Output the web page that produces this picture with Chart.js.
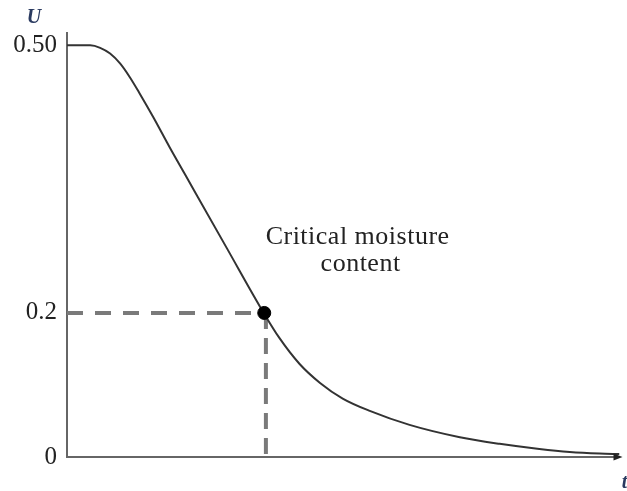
<!DOCTYPE html>
<html>
<head>
<meta charset="utf-8">
<script src="https://cdn.jsdelivr.net/npm/chart.js@4"></script>
<style>
html,body{margin:0;padding:0;background:#fff;}
#wrap{width:627px;height:491px;}
</style>
</head>
<body>
<div id="wrap"><canvas id="c" width="627" height="491"></canvas></div>
<script>
// ---- data ----
const tValues = [0, 0.42, 0.6, 0.78, 0.96, 1.14, 1.32, 1.56, 1.86, 2.13, 2.89, 3.56, 3.85, 4.21, 4.58, 4.99, 5.48, 6.2, 7.11, 7.83, 8.55, 9.1, 9.64, 10];
const uValues = [0.5, 0.5, 0.497, 0.49, 0.478, 0.461, 0.441, 0.413, 0.376, 0.344, 0.254, 0.175, 0.144, 0.113, 0.09, 0.071, 0.056, 0.039, 0.024, 0.016, 0.0097, 0.0061, 0.0042, 0.0036];
const criticalT = 3.57;
const criticalU = 0.175;
const yTickValues = [0, 0.175, 0.5];
const yTickLabels = ['0', '0.2', '0.50'];
const annotationLines = ['Critical moisture', 'content'];
const annotationT = 5.26;
const annotationU = 0.259;
const xAxisTitle = 't';
const yAxisTitle = 'U';

const curve = tValues.map((t, i) => ({x: t, y: uValues[i]}));

const overlay = {
  id: 'overlay',
  afterDraw(chart) {
    const {ctx, chartArea: a, scales: {x, y}} = chart;
    ctx.save();
    // arrow head on x axis
    ctx.fillStyle = '#222';
    ctx.beginPath();
    ctx.moveTo(a.right + 3, a.bottom);
    ctx.lineTo(a.right - 6, a.bottom - 3.5);
    ctx.lineTo(a.right - 6, a.bottom + 3.5);
    ctx.closePath();
    ctx.fill();
    // annotation
    ctx.fillStyle = '#222';
    ctx.font = '26px "Liberation Serif", serif';
    try { ctx.letterSpacing = '0.5px'; } catch (e) {}
    ctx.textAlign = 'center';
    ctx.textBaseline = 'alphabetic';
    const ax = x.getPixelForValue(annotationT);
    const ay = y.getPixelForValue(annotationU);
    ctx.fillText(annotationLines[0], ax, ay);
    ctx.fillText(annotationLines[1], ax + 3, ay + 27);
    try { ctx.letterSpacing = '0px'; } catch (e) {}
    // axis titles
    ctx.textBaseline = 'middle';
    ctx.font = 'italic bold 20px "Liberation Serif", serif';
    ctx.fillStyle = '#2a3a60';
    ctx.fillText(yAxisTitle, 34, 18);
    ctx.fillText(xAxisTitle, a.right + 5, a.bottom + 26);
    ctx.restore();
  }
};

new Chart(document.getElementById('c'), {
  type: 'scatter',
  data: {
    datasets: [
      {
        data: curve, showLine: true, pointRadius: 0, borderColor: '#333',
        borderWidth: 2, cubicInterpolationMode: 'monotone', order: 2
      },
      {
        data: [{x: 0, y: criticalU}, {x: criticalT, y: criticalU}],
        showLine: true, pointRadius: 0, borderColor: '#7a7a7a', borderWidth: 4,
        borderDash: [16, 12], order: 3
      },
      {
        data: [{x: criticalT + 0.03, y: criticalU}, {x: criticalT + 0.03, y: 0}],
        showLine: true, pointRadius: 0, borderColor: '#7a7a7a', borderWidth: 4,
        borderDash: [16, 9], order: 3
      },
      {
        data: [{x: criticalT, y: criticalU}], showLine: false, pointRadius: 6.5,
        pointBackgroundColor: '#000', pointBorderColor: '#000', order: 1
      }
    ]
  },
  options: {
    responsive: false,
    animation: false,
    layout: {padding: {top: 33, right: 7, left: 0, bottom: 0}},
    plugins: {legend: {display: false}, tooltip: {enabled: false}},
    scales: {
      x: {
        type: 'linear', min: 0, max: 10,
        grid: {display: false, drawTicks: false},
        border: {display: true, color: '#666', width: 2},
        ticks: {display: false},
        afterFit(s) { s.height = 34; }
      },
      y: {
        type: 'linear', min: 0, max: 0.515,
        grid: {display: false, drawTicks: false},
        border: {display: true, color: '#666', width: 2},
        afterBuildTicks(s) { s.ticks = yTickValues.map(v => ({value: v})); },
        ticks: {
          padding: 10,
          color: '#222',
          font: {family: '"Liberation Serif", serif', size: 25},
          callback(v) { const i = yTickValues.indexOf(v); return i >= 0 ? yTickLabels[i] : ''; }
        },
        afterFit(s) { s.width = 67; }
      }
    }
  },
  plugins: [overlay]
});
</script>
</body>
</html>
